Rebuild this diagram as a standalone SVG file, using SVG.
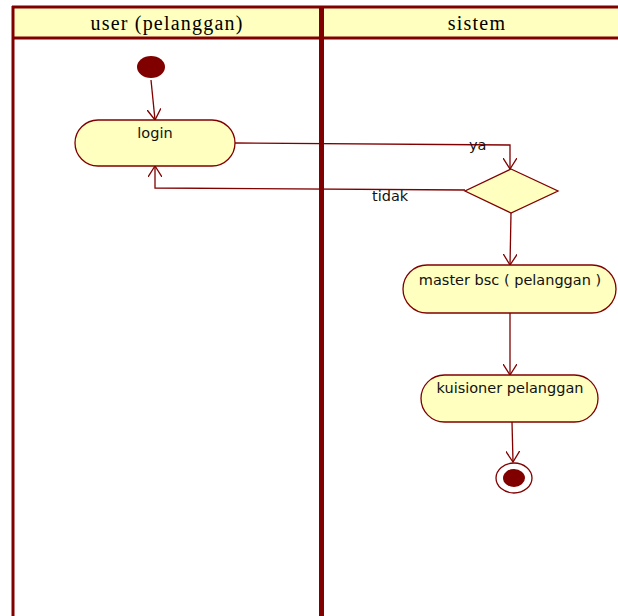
<svg xmlns="http://www.w3.org/2000/svg" width="618" height="616" viewBox="0 0 618 616">
  <style>
    .lane { fill: none; stroke: #800000; }
    .head { fill: #FFFFC0; stroke: none; }
    .htxt { font-family: "Liberation Serif", "Times New Roman", serif; font-size: 20px; letter-spacing: 1.2px; fill: #000; text-anchor: middle; }
    .act { fill: #FFFFC0; stroke: #800000; stroke-width: 1.3; }
    .txt { font-family: "DejaVu Sans", Verdana, sans-serif; font-size: 14.5px; fill: #111; text-anchor: middle; }
    .lbl { font-family: "DejaVu Sans", Verdana, sans-serif; font-size: 14.5px; fill: #111; }
    .edge { fill: none; stroke: #800000; stroke-width: 1.3; marker-end: url(#open); }
  </style>
  <defs>
    <marker id="open" viewBox="0 0 12 14" refX="11" refY="7" markerWidth="12" markerHeight="14" markerUnits="userSpaceOnUse" orient="auto">
      <path d="M0,0 L11,7 L0,14" fill="none" stroke="#800000" stroke-width="1.3"/>
    </marker>
  </defs>
  <rect width="618" height="616" fill="#fff"/>

  <!-- swimlanes -->
  <g id="swimlanes">
    <rect class="head" x="13" y="7" width="605" height="31"/>
    <line class="lane" x1="12" y1="7" x2="618" y2="7" stroke-width="3"/>
    <line class="lane" x1="13" y1="38" x2="618" y2="38" stroke-width="3"/>
    <line class="lane" x1="13" y1="6" x2="13" y2="616" stroke-width="3"/>
    <line class="lane" x1="321.5" y1="6" x2="321.5" y2="616" stroke-width="5"/>
    <text class="htxt" x="167" y="30">user (pelanggan)</text>
    <text class="htxt" x="477" y="30">sistem</text>
  </g>

  <!-- connectors -->
  <g id="connectors">
    <path class="edge" d="M151,80 L155,120"/>
    <path class="edge" d="M235,143 L510,145 L510,169"/>
    <path class="edge" d="M465,190 L155,188 L155,166"/>
    <path class="edge" d="M511,213 L510,265"/>
    <path class="edge" d="M510,313 L510,375"/>
    <path class="edge" d="M512,422 L513,462"/>
    <text class="lbl" x="469" y="150">ya</text>
    <text class="lbl" x="372" y="201">tidak</text>
  </g>

  <g id="start">
    <ellipse cx="151" cy="67" rx="14" ry="11" fill="#800000"/>
  </g>

  <g id="login">
    <rect class="act" x="75" y="120" width="160" height="46" rx="23" ry="23"/>
    <text class="txt" x="155" y="138">login</text>
  </g>

  <g id="decision">
    <polygon class="act" points="511,169 558,191 511,213 465,191"/>
  </g>

  <g id="master-bsc">
    <rect class="act" x="403" y="265" width="213" height="48" rx="24" ry="24"/>
    <text class="txt" x="510" y="285">master bsc ( pelanggan )</text>
  </g>

  <g id="kuisioner">
    <rect class="act" x="421" y="375" width="177" height="47" rx="23.5" ry="23.5"/>
    <text class="txt" x="510" y="393">kuisioner pelanggan</text>
  </g>

  <g id="end">
    <ellipse cx="514" cy="478" rx="18" ry="15" fill="#fff" stroke="#800000" stroke-width="1.3"/>
    <ellipse cx="514" cy="478" rx="11" ry="9" fill="#800000"/>
  </g>
</svg>
